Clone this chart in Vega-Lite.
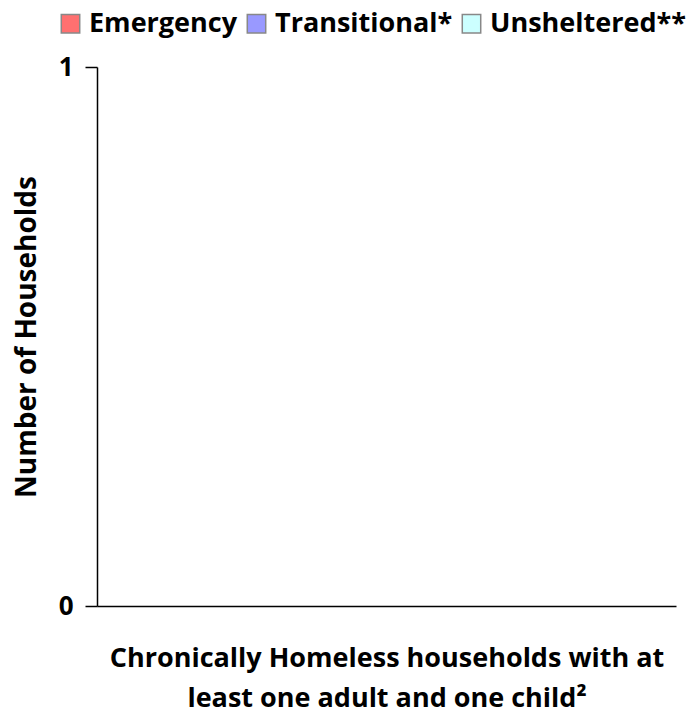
{
  "$schema": "https://vega.github.io/schema/vega-lite/v6.json",
  "width": 579,
  "height": 539,
  "autosize": {"type": "none"},
  "padding": {"left": 97, "top": 67, "right": 22, "bottom": 107},
  "background": "white",
  "config": {
    "view": {"stroke": null},
    "font": "Open Sans"
  },
  "data": {
    "values": [
      {"category": "Chronically Homeless households with at least one adult and one child²", "type": "Emergency", "households": 0},
      {"category": "Chronically Homeless households with at least one adult and one child²", "type": "Transitional*", "households": 0},
      {"category": "Chronically Homeless households with at least one adult and one child²", "type": "Unsheltered**", "households": 0}
    ]
  },
  "mark": {"type": "bar"},
  "encoding": {
    "x": {
      "field": "category",
      "type": "nominal",
      "axis": {
        "title": ["Chronically Homeless households with at", "least one adult and one child²"],
        "labels": false,
        "ticks": false,
        "domainColor": "black",
        "domainWidth": 1.5,
        "titleFont": "Open Sans",
        "titleFontSize": 27,
        "titleFontWeight": "bold",
        "titleColor": "black",
        "titlePadding": 39,
        "titleLineHeight": 40
      }
    },
    "y": {
      "field": "households",
      "type": "quantitative",
      "stack": "zero",
      "scale": {"domain": [0, 1], "nice": false},
      "axis": {
        "title": "Number of Households",
        "values": [0, 1],
        "format": "d",
        "grid": false,
        "domainColor": "black",
        "domainWidth": 1.5,
        "tickColor": "black",
        "tickWidth": 1.5,
        "tickSize": 12,
        "labelFont": "Open Sans",
        "labelFontSize": 26,
        "labelFontWeight": "bold",
        "labelColor": "black",
        "labelPadding": 12,
        "titleFont": "Open Sans",
        "titleFontSize": 28,
        "titleFontWeight": "bold",
        "titleColor": "black",
        "titlePadding": 17
      }
    },
    "color": {
      "field": "type",
      "type": "nominal",
      "scale": {
        "domain": ["Emergency", "Transitional*", "Unsheltered**"],
        "range": ["#FF7070", "#9999FF", "#CCFFFF"]
      },
      "legend": {
        "title": null,
        "orient": "none",
        "direction": "horizontal",
        "legendX": -40,
        "legendY": -57,
        "padding": 0,
        "symbolType": "square",
        "symbolSize": 340,
        "symbolStrokeColor": "#888888",
        "symbolStrokeWidth": 1.5,
        "labelFont": "Open Sans",
        "labelFontSize": 27,
        "labelFontWeight": "bold",
        "labelColor": "black",
        "labelOffset": 5,
        "columnPadding": 5,
        "labelLimit": 300
      }
    }
  }
}
